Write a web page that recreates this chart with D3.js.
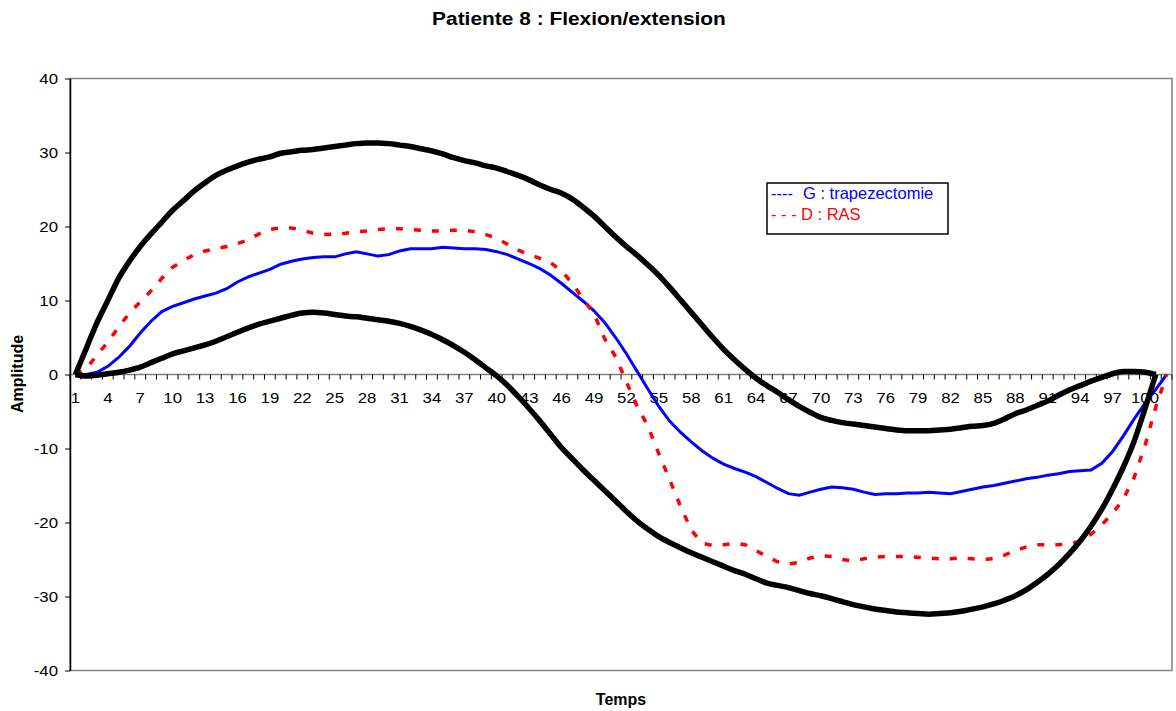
<!DOCTYPE html>
<html>
<head>
<meta charset="utf-8">
<script src="https://cdnjs.cloudflare.com/ajax/libs/d3/7.8.5/d3.min.js"></script>
<style>
  body { margin: 0; background: #fff; }
  svg text { font-family: 'Liberation Sans', Arial, sans-serif; }
</style>
</head>
<body>
<div id="chart"></div>
<script>

// categories 1..102 (time samples)
const categories = d3.range(1, 103);
const xLabelStep = 3;
const yTicks = [-40, -30, -20, -10, 0, 10, 20, 30, 40];

// normal band : upper and lower limits (black)
const normUpper = [
  0, 3.5, 7.0, 10.0, 13.0, 15.3, 17.3, 19.0, 20.6, 22.2,
  23.5, 24.8, 25.9, 26.9, 27.6, 28.2, 28.7, 29.1, 29.4, 29.9,
  30.1, 30.3, 30.4, 30.6, 30.8, 31.0, 31.2, 31.3, 31.3, 31.2,
  31.0, 30.8, 30.5, 30.2, 29.8, 29.3, 28.9, 28.6, 28.2, 27.9,
  27.4, 26.9, 26.3, 25.6, 25.0, 24.5, 23.7, 22.6, 21.4, 20.0,
  18.6, 17.3, 16.1, 14.8, 13.4, 11.8, 10.1, 8.4, 6.7, 5.0,
  3.4, 2.0, 0.7, -0.5, -1.5, -2.4, -3.4, -4.3, -5.1, -5.8,
  -6.2, -6.5, -6.7, -6.9, -7.1, -7.3, -7.5, -7.6, -7.6, -7.6,
  -7.5, -7.4, -7.2, -7.0, -6.9, -6.6, -6.0, -5.3, -4.8, -4.2,
  -3.6, -2.8, -2.1, -1.5, -0.9, -0.4, 0.1, 0.4, 0.4, 0.3,
  0
];
const normLower = [
  0, -0.2, -0.1, 0.1, 0.3, 0.6, 1.0, 1.6, 2.2, 2.8,
  3.2, 3.6, 4.0, 4.5, 5.1, 5.7, 6.3, 6.8, 7.2, 7.6,
  8.0, 8.3, 8.4, 8.3, 8.1, 7.9, 7.8, 7.6, 7.4, 7.2,
  6.9, 6.5, 6.0, 5.4, 4.7, 3.9, 3.0, 2.0, 0.9, -0.2,
  -1.5, -3.0, -4.6, -6.3, -8.1, -9.9, -11.4, -12.9, -14.3, -15.7,
  -17.1, -18.5, -19.8, -20.9, -21.9, -22.7, -23.4, -24.1, -24.7, -25.3,
  -25.9, -26.5, -27.0, -27.6, -28.2, -28.5, -28.8, -29.2, -29.6, -29.9,
  -30.3, -30.7, -31.1, -31.4, -31.7, -31.9, -32.1, -32.2, -32.3, -32.4,
  -32.3, -32.2, -32.0, -31.7, -31.4, -31.0, -30.5, -29.9, -29.1, -28.1,
  -27.0, -25.7, -24.2, -22.5, -20.5, -18.2, -15.5, -12.5, -9.0, -4.6,
  0
];

// G : trapezectomie (blue)
const leftSide = [
  0, 0, 0.3, 1.1, 2.3, 3.8, 5.6, 7.2, 8.5, 9.2,
  9.7, 10.2, 10.6, 11.0, 11.6, 12.5, 13.2, 13.7, 14.2, 14.9,
  15.3, 15.6, 15.8, 15.9, 15.9, 16.3, 16.6, 16.3, 16.0, 16.2,
  16.7, 17.0, 17.0, 17.0, 17.2, 17.1, 17.0, 17.0, 16.9, 16.6,
  16.2, 15.6, 15.0, 14.3, 13.4, 12.3, 11.1, 9.9, 8.6, 7.0,
  5.0, 2.8, 0.4, -2.0, -4.3, -6.3, -7.8, -9.1, -10.3, -11.3,
  -12.1, -12.7, -13.2, -13.8, -14.6, -15.4, -16.1, -16.3, -15.9, -15.5,
  -15.2, -15.3, -15.5, -15.9, -16.2, -16.1, -16.1, -16.0, -16.0, -15.9,
  -16.0, -16.1, -15.8, -15.5, -15.2, -15.0, -14.7, -14.4, -14.1, -13.9,
  -13.6, -13.4, -13.1, -13.0, -12.9, -12.0, -10.4, -8.3, -6.0, -3.9,
  -2.0, 0
];

// D : RAS (red, dashed)
const rightSide = [
  0, 0.8, 2.6, 4.4, 6.4, 8.3, 9.8, 11.3, 13.0, 14.5,
  15.4, 16.2, 16.7, 17.0, 17.3, 17.7, 18.2, 19.0, 19.6, 19.8,
  19.8, 19.5, 19.1, 18.9, 19.0, 19.1, 19.3, 19.4, 19.6, 19.7,
  19.7, 19.6, 19.5, 19.4, 19.4, 19.5, 19.5, 19.3, 18.9, 18.4,
  17.6, 16.8, 16.2, 15.7, 15.1, 14.0, 12.3, 10.2, 8.2, 4.8,
  2.4, -1.0, -4.3, -7.0, -10.7, -14.2, -17.8, -21.0, -22.8, -23.1,
  -23.0, -22.8, -23.0, -23.8, -24.6, -25.3, -25.6, -25.4, -24.8, -24.5,
  -24.6, -25.0, -25.2, -24.9, -24.7, -24.6, -24.6, -24.6, -24.7, -24.8,
  -24.9, -24.9, -24.8, -24.9, -25.0, -24.9, -24.4, -23.8, -23.3, -23.0,
  -23.0, -23.0, -22.9, -22.5, -21.6, -20.3, -18.8, -16.8, -13.9, -9.6,
  -4.4, 0
];

const legendKeys = ['----', '- - -'];
const legendNames = ['G : trapezectomie', 'D : RAS'];
const legendColors = ['#0000ff', '#ff0000'];

const chartTitle = 'Patiente 8 : Flexion/extension';
const xTitle = 'Temps';
const yTitle = 'Amplitude';

Chart = {

  svgSize: {width: 1176, height: 711},
  plot: {left: 70, right: 1172, top: 78.5, bottom: 670.5},
  legendBox: {x: 767, y: 183, width: 181, height: 51},

  createSVG: function(){
    this.svg = d3.select('#chart').append('svg')
      .attr('width', this.svgSize.width)
      .attr('height', this.svgSize.height)
  },

  createScales: function(){
    this.x = d3.scaleBand().domain(categories).range([this.plot.left, this.plot.right]);
    this.y = d3.scaleLinear().domain([-40, 40]).range([this.plot.bottom, this.plot.top]);
    this.xc = (c)=> this.x(c) + this.x.bandwidth() / 2;
  },

  drawFrame: function(){
    this.svg.append('rect')
      .attr('x', this.plot.left)
      .attr('y', this.plot.top)
      .attr('width', this.plot.right - this.plot.left)
      .attr('height', this.plot.bottom - this.plot.top)
      .attr('fill', 'none')
      .attr('stroke', '#808080')
      .attr('stroke-width', 1.5)
  },

  drawYAxis: function(){
    const g = this.svg.append('g')
      .attr('transform', `translate(${this.plot.left}, 0)`)
      .call(d3.axisLeft(this.y).tickValues(yTicks).tickSize(5).tickSizeOuter(0)
        .tickFormat((d)=> String(d)))
    g.select('.domain').attr('stroke', '#000').attr('stroke-width', 1.5)
    g.selectAll('.tick line').attr('stroke', '#000')
    g.selectAll('.tick text')
      .attr('x', null).attr('dy', null)
      .attr('transform', 'translate(-12, 5) scale(1.12, 1)')
      .attr('font-size', 15)
      .attr('font-family', "'Liberation Sans', Arial, sans-serif")
      .attr('fill', '#000')
  },

  drawXAxis: function(){
    const y0 = this.y(0);
    const edges = categories.map((c)=> this.x(c)).concat([this.plot.right]);
    this.svg.append('line')
      .attr('x1', this.plot.left).attr('x2', this.plot.right)
      .attr('y1', y0).attr('y2', y0)
      .attr('stroke', '#808080')
      .attr('stroke-width', 1.5)
    this.svg.append('g').selectAll('line')
      .data(edges)
      .enter()
      .append('line')
      .attr('x1', (d)=> d).attr('x2', (d)=> d)
      .attr('y1', y0).attr('y2', y0 + 5)
      .attr('stroke', '#000')
    this.svg.append('g').selectAll('text')
      .data(categories.filter((c)=> (c - 1) % xLabelStep === 0))
      .enter()
      .append('text')
      .attr('transform', (d)=> `translate(${this.xc(d)}, ${y0 + 28}) scale(1.12, 1)`)
      .attr('text-anchor', 'middle')
      .attr('font-size', 15)
      .text((d)=> d)
  },

  drawLines: function(){
    const line = (curve)=> d3.line()
      .x((d, i)=> this.xc(categories[i]))
      .y((d)=> this.y(d))
      .curve(curve);

    this.svg.append('path')
      .attr('d', line(d3.curveLinear)(leftSide))
      .attr('fill', 'none')
      .attr('stroke', '#0000ff')
      .attr('stroke-width', 3)

    this.svg.append('path')
      .attr('d', line(d3.curveLinear)(rightSide))
      .attr('fill', 'none')
      .attr('stroke', '#ff0000')
      .attr('stroke-width', 3.5)
      .attr('stroke-dasharray', '7,11')

    ;[normUpper, normLower].forEach((serie)=>{
      this.svg.append('path')
        .attr('d', line(d3.curveMonotoneX)(serie))
        .attr('fill', 'none')
        .attr('stroke', '#000')
        .attr('stroke-width', 5.5)
        .attr('stroke-linejoin', 'round')
    })
  },

  drawTitles: function(){
    this.svg.append('text')
      .attr('transform', 'translate(579, 25) scale(1.1, 1)')
      .attr('text-anchor', 'middle')
      .attr('font-size', 19)
      .attr('font-weight', 'bold')
      .text(chartTitle)
    this.svg.append('text')
      .attr('x', (this.plot.left + this.plot.right) / 2)
      .attr('y', 705)
      .attr('text-anchor', 'middle')
      .attr('font-size', 16)
      .attr('font-weight', 'bold')
      .text(xTitle)
    this.svg.append('text')
      .attr('transform', 'translate(23, 374) rotate(-90)')
      .attr('text-anchor', 'middle')
      .attr('font-size', 16)
      .attr('font-weight', 'bold')
      .text(yTitle)
  },

  drawLegend: function(){
    const b = this.legendBox;
    const g = this.svg.append('g')
    g.append('rect')
      .attr('x', b.x).attr('y', b.y)
      .attr('width', b.width).attr('height', b.height)
      .attr('fill', '#fff')
      .attr('stroke', '#000')
      .attr('stroke-width', 1.5)
    const items = g.selectAll('.legendItem')
      .data(legendNames)
      .enter()
      .append('text')
      .attr('class', 'legendItem')
      .attr('x', b.x + 4)
      .attr('y', (d, i)=> b.y + 16 + i * 21)
      .attr('font-size', 16.5)
      .attr('fill', (d, i)=> legendColors[i])
    items.append('tspan').text((d, i)=> legendKeys[i])
    items.append('tspan')
      .attr('x', (d, i)=> i === 0 ? b.x + 36 : b.x + 34)
      .text((d)=> d)
  },

  load: function(){
    this.createSVG();
    this.createScales();
    this.drawFrame();
    this.drawXAxis();
    this.drawLines();
    this.drawYAxis();
    this.drawLegend();
    this.drawTitles();
  },
}

Chart.load();
</script>
</body>
</html>
